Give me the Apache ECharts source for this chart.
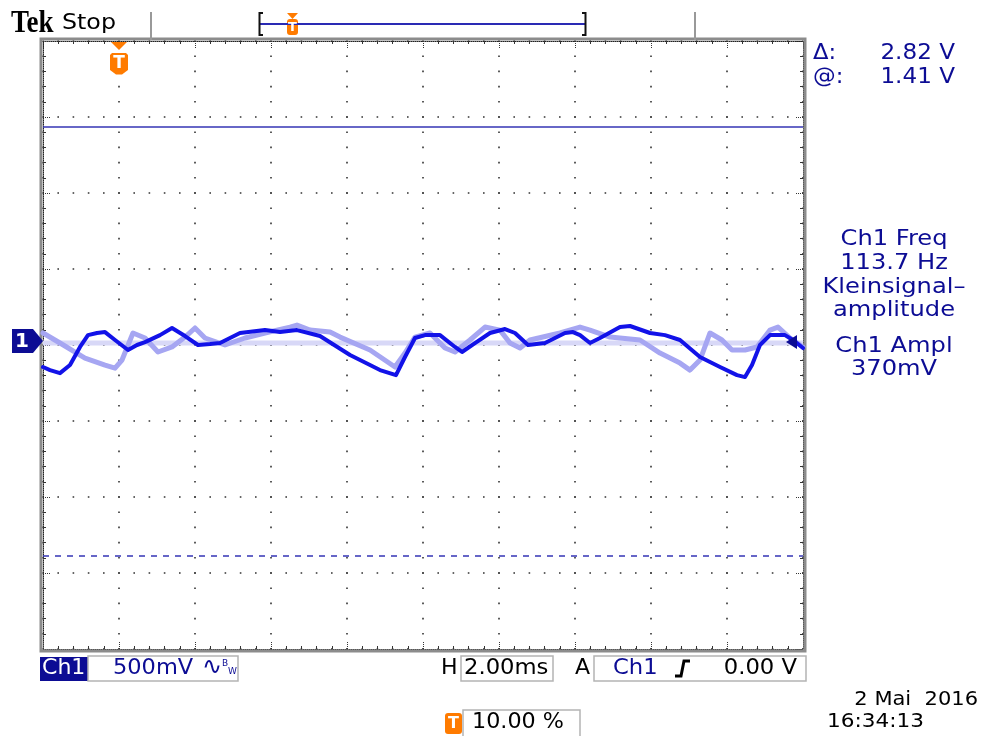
<!DOCTYPE html>
<html>
<head>
<meta charset="utf-8">
<script src="https://cdn.jsdelivr.net/npm/echarts@6/dist/echarts.min.js"></script>
<style>
html,body{margin:0;padding:0;background:#fff;}
#scope{width:985px;height:736px;}
</style>
</head>
<body>
<div id="scope"></div>
<script>
// Horizontal: 2 ms/div, trigger at 10 % of the record (t = 0 one division in)
const timeMin = -2;
const timeMax = 18;
const timeStep = 2;
// Vertical graticule: 8 divisions of 500 mV
const divMin = 0;
const divMax = 8;
// Ch1 ground sits slightly above screen centre
const voltMin = -2.026;
const voltMax = 1.974;

// Ch1 live acquisition (ms, V)
const liveTime = [-2.0, -1.816, -1.553, -1.289, -1.026, -0.816, -0.579, -0.368, -0.105, 0.237, 0.474, 0.684, 1.079, 1.395, 1.737, 2.079, 2.395, 2.658, 3.184, 3.842, 4.237, 4.684, 5.289, 6.079, 6.868, 7.289, 7.526, 7.789, 8.053, 8.447, 8.842, 9.026, 9.368, 9.763, 10.158, 10.421, 10.763, 11.211, 11.737, 11.947, 12.132, 12.395, 12.658, 13.184, 13.447, 13.974, 14.368, 14.763, 15.289, 15.816, 16.263, 16.474, 16.658, 16.868, 17.132, 17.526, 17.737, 18.0];
const liveVolts = [-0.171, -0.191, -0.211, -0.158, -0.039, 0.039, 0.053, 0.059, 0.007, -0.059, -0.026, -0.007, 0.039, 0.086, 0.033, -0.026, -0.020, -0.013, 0.053, 0.072, 0.059, 0.072, 0.033, -0.092, -0.191, -0.224, -0.105, 0.020, 0.039, 0.039, -0.039, -0.072, -0.013, 0.053, 0.079, 0.053, -0.026, -0.013, 0.053, 0.059, 0.039, -0.013, 0.020, 0.092, 0.099, 0.053, 0.039, 0.007, -0.105, -0.171, -0.224, -0.237, -0.158, -0.026, 0.039, 0.039, 0.007, -0.046];

// Persisted earlier sweep (ms, V)
const persistTime = [-2.0, -1.553, -0.895, -0.368, -0.105, 0.079, 0.368, 0.684, 1.026, 1.395, 1.737, 2.0, 2.263, 2.789, 3.316, 3.842, 4.5, 4.684, 5.026, 5.553, 5.816, 6.605, 7.263, 7.526, 7.789, 8.184, 8.579, 8.842, 9.237, 9.632, 10.026, 10.289, 10.553, 10.816, 11.605, 12.132, 12.395, 12.921, 13.711, 14.237, 14.763, 15.026, 15.289, 15.553, 15.868, 16.132, 16.474, 16.789, 17.132, 17.342, 17.658, 18.0];
const persistVolts = [0.053, -0.013, -0.112, -0.158, -0.178, -0.125, 0.053, 0.020, -0.072, -0.039, 0.026, 0.086, 0.020, -0.026, 0.020, 0.053, 0.092, 0.105, 0.072, 0.059, 0.026, -0.059, -0.171, -0.079, 0.026, 0.053, -0.046, -0.072, 0.007, 0.092, 0.072, -0.013, -0.046, 0.007, 0.053, 0.092, 0.072, 0.026, 0.007, -0.079, -0.145, -0.191, -0.125, 0.053, 0.007, -0.059, -0.059, -0.039, 0.072, 0.092, 0.020, -0.039];

// Persisted flat sweep near ground
const baselineTime = [-2, 18];
const baselineVolts = [-0.013, -0.013];

// Horizontal bar cursors (V)
const cursorLevels = [1.41, -1.41];

const pairs = (xs, ys) => xs.map((x, i) => [x, ys[i]]);

const NAVY = '#0c0c94';
const ORANGE = '#ff7b00';

const chart = echarts.init(document.getElementById('scope'), null, { renderer: 'canvas' });

const borderLine = { show: true, onZero: false, lineStyle: { color: '#222', width: 1, type: [1, 1] } };
const dotGrid = { show: true, lineStyle: { color: '#333', width: 1.6, type: [1.6, 13.6], dashOffset: 0.8 } };
const tickIn = { show: true, inside: true, length: 7, lineStyle: { color: '#333', width: 1, type: [1, 1] } };
const minorIn = { show: true, splitNumber: 5, length: 3, lineStyle: { color: '#333', width: 1 } };

chart.setOption({
  animation: false,
  backgroundColor: '#fff',
  grid: { left: 43, top: 41, width: 760, height: 608, show: false },
  xAxis: [
    { type: 'value', min: timeMin, max: timeMax, interval: timeStep, position: 'bottom',
      axisLine: borderLine, axisTick: tickIn, minorTick: minorIn, axisLabel: { show: false },
      splitLine: dotGrid },
    { type: 'value', min: timeMin, max: timeMax, interval: timeStep, position: 'top',
      axisLine: borderLine, axisTick: tickIn, minorTick: minorIn, axisLabel: { show: false },
      splitLine: { show: false } }
  ],
  yAxis: [
    { type: 'value', min: divMin, max: divMax, interval: 1, position: 'left',
      axisLine: borderLine, axisTick: tickIn, minorTick: minorIn, axisLabel: { show: false },
      splitLine: dotGrid },
    { type: 'value', min: divMin, max: divMax, interval: 1, position: 'right',
      axisLine: borderLine, axisTick: tickIn, minorTick: minorIn, axisLabel: { show: false },
      splitLine: { show: false } },
    { type: 'value', min: voltMin, max: voltMax, show: false, axisLine: { onZero: false } }
  ],
  series: [
    { name: 'baseline', type: 'line', xAxisIndex: 0, yAxisIndex: 2,
      data: pairs(baselineTime, baselineVolts), showSymbol: false, silent: true, z: 2,
      lineStyle: { color: '#d8d8f7', width: 5 },
      markLine: {
        symbol: 'none', silent: true, label: { show: false },
        lineStyle: { color: '#3535b5', width: 1.5 },
        data: [
          { yAxis: cursorLevels[0], lineStyle: { type: 'solid' } },
          { yAxis: cursorLevels[1], lineStyle: { type: [6, 6] } }
        ]
      } },
    { name: 'persist', type: 'line', xAxisIndex: 0, yAxisIndex: 2,
      data: pairs(persistTime, persistVolts), showSymbol: false, silent: true, z: 3,
      lineStyle: { color: '#a6a6f2', width: 5, join: 'round', cap: 'round' } },
    { name: 'live', type: 'line', xAxisIndex: 0, yAxisIndex: 2,
      data: pairs(liveTime, liveVolts), showSymbol: false, silent: true, z: 4,
      lineStyle: { color: '#1212e8', width: 4, join: 'round', cap: 'round' } }
  ]
});

const origin = chart.convertToPixel({ seriesIndex: 2 }, [0, 0]);
const gx = origin[0];
const gy = origin[1];

function txt(x, y, text, font, fill, align, sx) {
  return { type: 'text', x: x, y: y, scaleX: sx || 1, z: 100,
    style: { text: text, x: 0, y: 0, font: font, fill: fill || '#000',
      align: align || 'left', verticalAlign: 'middle' } };
}
function box(x, y, w, h, fill, stroke, r) {
  return { type: 'rect', z: 90, shape: { x: x, y: y, width: w, height: h, r: r || 0 },
    style: { fill: fill || 'none', stroke: stroke || null, lineWidth: 1.5 } };
}
function poly(points, fill) {
  return { type: 'polygon', z: 95, shape: { points: points }, style: { fill: fill } };
}
function pline(points, color, w) {
  return { type: 'polyline', z: 95, shape: { points: points }, style: { stroke: color, lineWidth: w, fill: 'none' } };
}

const F = '"DejaVu Sans"';
const g = [];

// screen frame
g.push({ type: 'rect', z: 1, shape: { x: 41, y: 39, width: 764, height: 612 },
  style: { fill: 'none', stroke: '#8c8c8c', lineWidth: 3 } });

// header
g.push(txt(11, 24, 'Tek', 'bold 31px "Liberation Serif"', '#000', 'left', 0.87));
g.push(txt(62, 24, 'Stop', '21px ' + F, '#000', 'left', 1.13));
g.push(pline([[151, 12], [151, 40]], '#999', 2));
g.push(pline([[695, 12], [695, 40]], '#999', 2));

// record view bar
g.push(pline([[260, 24], [585, 24]], '#2a2ab4', 2));
g.push(pline([[263, 13], [259.5, 13], [259.5, 35], [263, 35]], '#111', 2));
g.push(pline([[582, 13], [585.5, 13], [585.5, 35], [582, 35]], '#111', 2));
g.push(poly([[287, 13], [298, 13], [292.5, 19]], ORANGE));
g.push(box(287, 19, 11, 16, ORANGE, null, 3));
g.push(txt(292.5, 27.5, 'T', 'bold 13px ' + F, '#fff', 'center'));

// trigger position marker
g.push(poly([[gx - 8, 42], [gx + 8, 42], [gx, 50]], ORANGE));
g.push(poly([[gx - 9, 55], [gx - 7, 53], [gx + 7, 53], [gx + 9, 55], [gx + 9, 70], [gx + 3, 74.5], [gx - 3, 74.5], [gx - 9, 70]], ORANGE));
g.push(txt(gx, 63.5, 'T', 'bold 17px ' + F, '#fff', 'center'));

// channel ground marker
g.push(poly([[12, gy - 12], [33, gy - 12], [43, gy], [33, gy + 12], [12, gy + 12]], NAVY));
g.push(txt(22, gy + 1, '1', 'bold 20px ' + F, '#fff', 'center'));
g.push(poly([[786, gy + 1], [797, gy - 6], [797, gy + 8]], NAVY));

// cursor readout
g.push(txt(813, 54, 'Δ:', '21px ' + F, NAVY, 'left', 1.08));
g.push(txt(955, 54, '2.82 V', '21px ' + F, NAVY, 'right', 1.1));
g.push(txt(813, 78, '@:', '21px ' + F, NAVY, 'left', 1.08));
g.push(txt(955, 78, '1.41 V', '21px ' + F, NAVY, 'right', 1.1));

// measurements
const mx = 894;
g.push(txt(mx, 240, 'Ch1 Freq', '21px ' + F, NAVY, 'center', 1.15));
g.push(txt(mx, 264, '113.7 Hz', '21px ' + F, NAVY, 'center', 1.15));
g.push(txt(mx, 288, 'Kleinsignal–', '21px ' + F, NAVY, 'center', 1.15));
g.push(txt(mx, 311, 'amplitude', '21px ' + F, NAVY, 'center', 1.15));
g.push(txt(mx, 347, 'Ch1 Ampl', '21px ' + F, NAVY, 'center', 1.15));
g.push(txt(mx, 370, '370mV', '21px ' + F, NAVY, 'center', 1.15));

// bottom status bar
g.push(box(40, 657, 48, 24, NAVY));
g.push(txt(42, 669, 'Ch1', '21px ' + F, '#fff', 'left', 1.05));
g.push(box(88, 656, 150, 25, '#fff', '#b4b4b4'));
g.push(txt(113, 669, '500mV', '21px ' + F, NAVY, 'left', 1.07));
g.push(txt(202, 668, '∿', '24px ' + F, NAVY, 'left', 1));
g.push(txt(222, 664, 'B', '9px ' + F, NAVY, 'left', 1));
g.push(txt(228, 672, 'W', '9px ' + F, NAVY, 'left', 1));

g.push(txt(441, 669, 'H', '21px ' + F, '#000', 'left', 1.05));
g.push(box(461, 656, 92, 25, '#fff', '#b4b4b4'));
g.push(txt(464, 669, '2.00ms', '21px ' + F, '#000', 'left', 1.08));

g.push(txt(575, 669, 'A', '21px ' + F, '#000', 'left', 1.05));
g.push(box(594, 656, 212, 25, '#fff', '#b4b4b4'));
g.push(txt(613, 669, 'Ch1', '21px ' + F, NAVY, 'left', 1.08));
g.push(pline([[675, 676], [681, 676], [684, 661], [690, 661]], '#000', 3));
g.push(txt(797, 669, '0.00 V', '21px ' + F, '#000', 'right', 1.08));

g.push(box(445, 713, 17, 21, ORANGE, null, 3));
g.push(txt(453.5, 724, 'T', 'bold 16px ' + F, '#fff', 'center'));
g.push(box(463, 710, 117, 30, '#fff', '#b4b4b4'));
g.push(txt(472, 723, '10.00 %', '21px ' + F, '#000', 'left', 1.06));

g.push(txt(978, 700, '2 Mai  2016', '20px ' + F, '#000', 'right', 1.05));
g.push(txt(827, 722, '16:34:13', '20px ' + F, '#000', 'left', 1.08));

chart.setOption({ graphic: { elements: g } });
</script>
</body>
</html>
